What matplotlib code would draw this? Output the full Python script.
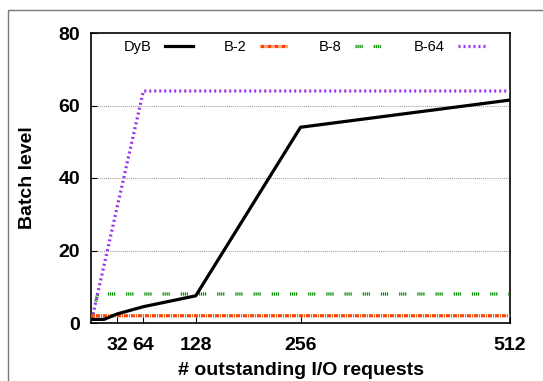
import numpy as np
import matplotlib
matplotlib.use("Agg")
import matplotlib.pyplot as plt
from matplotlib.lines import Line2D

plt.rcParams['font.family'] = ['Liberation Sans', 'DejaVu Sans']
plt.rcParams['lines.scale_dashes'] = False

# data
x_dyb = [1, 16, 32, 64, 128, 256, 512]
y_dyb = [1, 1, 2.5, 4.5, 7.5, 54, 61.5]

x_b = [1, 2, 4, 8, 16, 32, 64, 128, 256, 512]
y_b2 = [1, 2, 2, 2, 2, 2, 2, 2, 2, 2]
y_b8 = [1, 2, 4, 8, 8, 8, 8, 8, 8, 8]
y_b64 = [1, 2, 4, 8, 16, 32, 64, 64, 64, 64]

xticks = [32, 64, 128, 256, 512]
xticklabels = ["32", "64", "128", "256", "512"]
yticks = [0, 20, 40, 60, 80]

fig = plt.figure(figsize=(5.43, 3.81), dpi=100)
ax = fig.add_axes([91/543, 1-323/381, 419/543, 290/381])

# outer gray frame of the screenshot
fig.add_artist(Line2D([8/543, 8/543, 1.0], [0.0, 1-10/381, 1-10/381],
                      transform=fig.transFigure, color='#777777', lw=1.0))

for y in [20, 40, 60]:
    ax.axhline(y, color='#999999', lw=0.8, ls=(0, (0.7, 0.8)), zorder=0)

px = 0.72
ax.plot(x_dyb, y_dyb, color='black', lw=2.3, label='DyB', zorder=5)
ax.plot(x_b, y_b2, color='#FF4500', lw=2.3, label='B-2',
        ls=(0, (4*px, 1*px, 1*px, 1*px)), zorder=4)
ax.plot(x_b, y_b8, color='#008A00', lw=2.3, label='B-8',
        ls=(0, (1.2*px, 0.8*px, 1.2*px, 0.8*px, 1.2*px, 0.8*px, 1.2*px, 11*px)), zorder=3)
ax.plot(x_b, y_b64, color='#9B30F0', lw=2.3, label='B-64',
        ls=(0, (2*px, 3*px)), zorder=3)

ax.set_xlim(0, 512)
ax.set_ylim(0, 80)
ax.set_xticks(xticks)
ax.set_xticklabels(xticklabels)
ax.set_yticks(yticks)
ax.tick_params(direction='in', length=4, width=0.8, labelsize=14)
ax.tick_params(axis='x', pad=10)
ax.tick_params(axis='y', pad=8)
for lab in ax.get_xticklabels() + ax.get_yticklabels():
    lab.set_fontweight('bold')
for s in ax.spines.values():
    s.set_linewidth(1.2)

ax.set_xlabel('# outstanding I/O requests', fontsize=14, fontweight='bold', labelpad=6)
ax.set_ylabel('Batch level', fontsize=14, fontweight='bold', labelpad=16)

ax.legend(loc='center', bbox_to_anchor=(0.51, 0.953), ncol=4, frameon=False,
          markerfirst=False, fontsize=10.5, handlelength=1.9, columnspacing=2.1,
          handletextpad=0.95)

fig.savefig('out.png', dpi=100)
